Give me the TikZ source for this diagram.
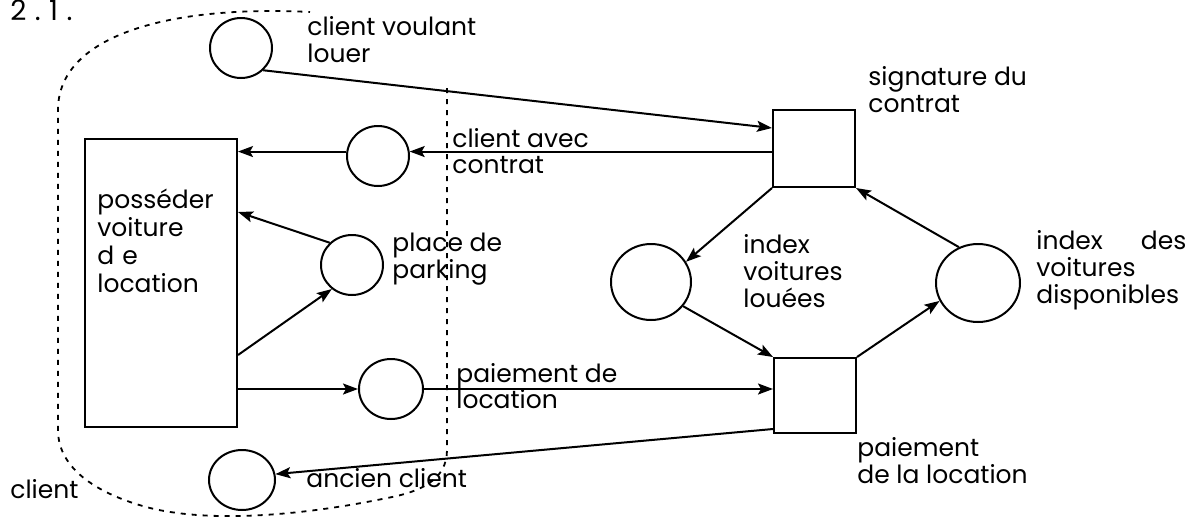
\documentclass[tikz,border=0pt]{standalone}
\usepackage{fontspec}
\setmainfont{Poppins}
\usetikzlibrary{shapes.geometric,arrows.meta}
\begin{document}
\begin{tikzpicture}[x=0.5pt,y=-0.5pt,
  place/.style={ellipse, draw, line width=1pt, inner sep=0pt},
  trans/.style={rectangle, draw, line width=1pt, inner sep=0pt},
  arr/.style={line width=1pt, -{Stealth[length=7.5pt,width=5.5pt,inset=1.5pt]}},
  lbl/.style={font=\fontsize{12.5}{13.5}\selectfont, inner sep=0pt, align=left, anchor=base west},
  bound/.style={line width=0.9pt, dash pattern=on 2.5pt off 3pt}]
\useasboundingbox[fill=white] (0,0) rectangle (1201,521);
% places
\node[place, minimum width=31pt, minimum height=30pt] (c1) at (241,48) {};
\node[place, minimum width=31pt, minimum height=30pt] (c2) at (378,156) {};
\node[place, minimum width=31pt, minimum height=30pt] (c3) at (352,265) {};
\node[place, minimum width=32pt, minimum height=30pt] (c4) at (391,389) {};
\node[place, minimum width=33pt, minimum height=30pt] (c5) at (242,480) {};
\node[place, minimum width=40pt, minimum height=38pt] (c6) at (651,282) {};
\node[place, minimum width=42pt, minimum height=39pt] (c7) at (978,283) {};
% transitions
\node[trans, minimum width=76pt, minimum height=144pt] (pos) at (161,283) {};
\node[trans, minimum width=41pt, minimum height=38.5pt] (t1) at (814,148.5) {};
\node[trans, minimum width=41pt, minimum height=37.5pt] (t2) at (815,395.5) {};
% boundary of client
\draw[bound] (447,88) -- (447,450) .. controls (447,480) and (420,492) .. (387,498)
  .. controls (320,512) and (220,525) .. (150,508)
  .. controls (100,495) and (58,470) .. (58,430) -- (58,110)
  .. controls (58,35) and (170,5) .. (310,12);
% arcs
\draw[arr] (c1.-45) -- (t1.west |- 0,128);
\draw[arr] (t1.west |- c2.8) -- (c2.8);
\draw[arr] (c2.172) -- (c2.172 -| pos.east);
\draw[arr] (c3.135) -- (pos.east |- 0,212);
\draw[arr] (pos.east |- 0,355) -- (c3.-130);
\draw[arr] (pos.east |- c4.west) -- (c4.west);
\draw[arr] (c4.east) -- (c4.east -| t2.west);
\draw[arr] (t2.west |- 0,429) -- (c5.10);
\draw[arr] (t1.south west) -- (c6.30);
\draw[arr] (c6.-37) -- (t2.north west);
\draw[arr] (c7.118) -- (t1.south east);
\draw[arr] (t2.north east) -- (c7.205);
% labels (anchor = baseline of the last line)
\node[lbl, font=\fontsize{14}{14}\selectfont\addfontfeatures{LetterSpace=30,Weight=300}] (num) at (10,20) {2.1.};
\node[lbl] (l1) at (307,62) {client voulant\\louer};
\node[lbl] (l2) at (868,112) {signature du\\contrat};
\node[lbl, font=\fontsize{12.5}{12.8}\selectfont] (l3) at (452,173) {client avec\\contrat};
\node[lbl] (l4) at (392,278) {place de\\parking};
\node[lbl, font=\fontsize{12.5}{14}\selectfont] (l5) at (97,292) {posséder\\voiture\\d\kern4pt e\\location};
\node[lbl] (l6) at (743,307) {index\\voitures\\louées};
\node[lbl] (l7) at (1036,303) {\makebox[75pt][s]{index\hfill des}\\voitures\\disponibles};
\node[lbl, font=\fontsize{12.5}{13}\selectfont] (l8) at (456,408) {paiement de\\location};
\node[lbl] (l9) at (857,483) {paiement\\de la location};
\node[lbl] (l10) at (306,487) {ancien client};
\node[lbl] (l11) at (10,498) {client};
\end{tikzpicture}
\end{document}
